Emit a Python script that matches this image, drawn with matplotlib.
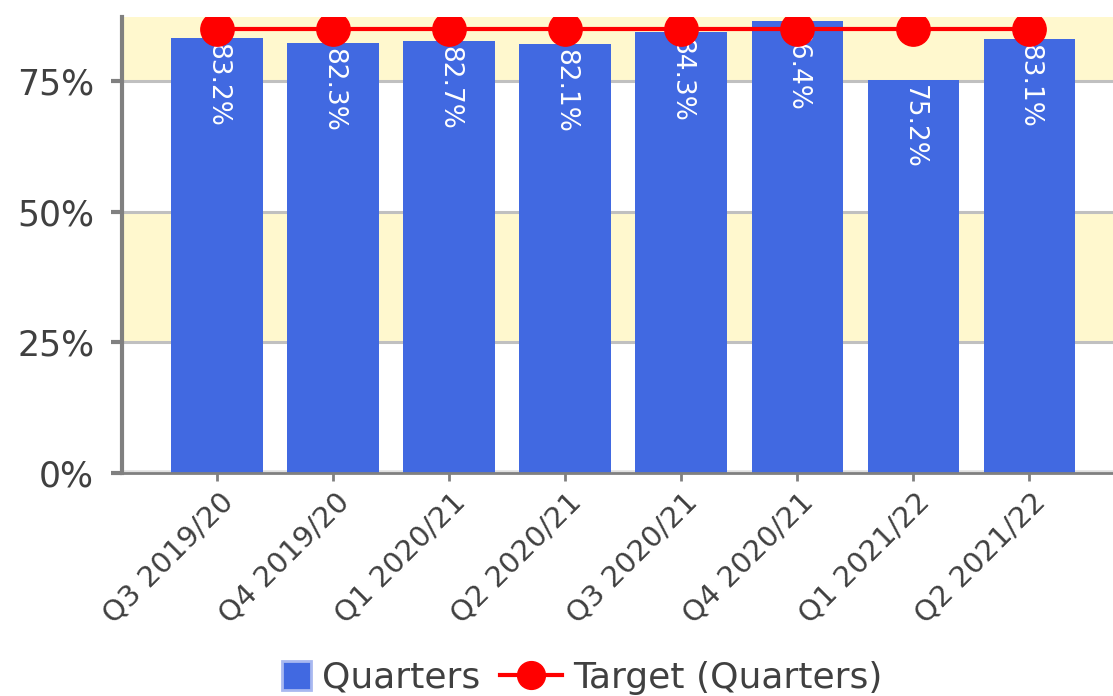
import matplotlib.pyplot as plt
import matplotlib.transforms as mtransforms
from matplotlib.legend_handler import HandlerPatch
from matplotlib.lines import Line2D
from matplotlib.patches import Patch, Rectangle
from matplotlib.ticker import FuncFormatter

quarters = ["Q3 2019/20", "Q4 2019/20", "Q1 2020/21", "Q2 2020/21",
            "Q3 2020/21", "Q4 2020/21", "Q1 2021/22", "Q2 2021/22"]
actual = [83.2, 82.3, 82.7, 82.1, 84.3, 86.4, 75.2, 83.1]
target = [85, 85, 85, 85, 85, 85, 85, 85]

BAR = "#4169E1"
BAND = "#FFF8CE"
GREY = "#808080"
TEXT = "#404040"

fig = plt.figure(figsize=(11.13, 6.96), dpi=100)
ax = fig.add_axes([0.1096, 0.3204, 0.8904, 0.6552])

x = list(range(len(quarters)))
ax.set_xlim(-0.82, 7.72)
ax.set_ylim(0, 87.24)

# alternating shaded bands behind the bars
ax.axhspan(25, 50, color=BAND, zorder=0, lw=0)
ax.axhspan(75, 100, color=BAND, zorder=0, lw=0)
ax.axhline(0, color="#E0E0E0", lw=4, zorder=1)
for g in (25, 50, 75):
    ax.axhline(g, color="#C0C0C0", lw=2.2, zorder=1)

ax.bar(x, actual, width=0.79, color=BAR, zorder=2)
for xi, v in zip(x, actual):
    ax.text(xi, v - 1.0, f"{v:.1f}%", rotation=270, ha="center", va="top",
            color="white", fontsize=19, zorder=3)

ax.plot(x, target, color="red", lw=3, marker="o", markersize=24, zorder=4)

for side in ("top", "right"):
    ax.spines[side].set_visible(False)
ax.spines["left"].set_color(GREY)
ax.spines["left"].set_linewidth(3)
ax.spines["bottom"].set_color(GREY)
ax.spines["bottom"].set_linewidth(2)
ax.spines["bottom"].set_zorder(5)

ax.set_yticks([0, 25, 50, 75])
ax.yaxis.set_major_formatter(FuncFormatter(lambda v, _: f"{v:.0f}%"))
ax.set_xticks(x)
ax.set_xticklabels(quarters, rotation=45, ha="right", va="center",
                   rotation_mode="anchor")
ax.tick_params(axis="y", colors=GREY, labelcolor=TEXT, labelsize=25,
               length=8, width=3, pad=12)
ax.tick_params(axis="x", colors=GREY, labelcolor=TEXT, labelsize=21,
               length=6, width=2, pad=12)

# nudge the slanted category labels to the right of their ticks
shift = mtransforms.ScaledTranslation(12 / 100, 0, fig.dpi_scale_trans)
for lbl in ax.get_xticklabels():
    lbl.set_transform(lbl.get_transform() + shift)


def square_patch(legend, orig_handle, xdescent, ydescent, width, height,
                 fontsize):
    side = 0.8 * fontsize
    return Rectangle((width - side - xdescent, (height - side) / 2 - ydescent),
                     side, side)


handles = [
    Patch(facecolor=BAR, edgecolor="#A8B8F0", linewidth=2),
    Line2D([0], [0], color="red", lw=3, marker="o", markersize=20),
]
fig.legend(handles, ["Quarters", "Target (Quarters)"], loc="lower center",
           bbox_to_anchor=(0.508, -0.045), ncol=2, frameon=False,
           fontsize=26, handlelength=1.72, handletextpad=0.3,
           columnspacing=0.55, labelcolor=TEXT,
           handler_map={Patch: HandlerPatch(patch_func=square_patch)})

fig.savefig("out.png", dpi=100)
